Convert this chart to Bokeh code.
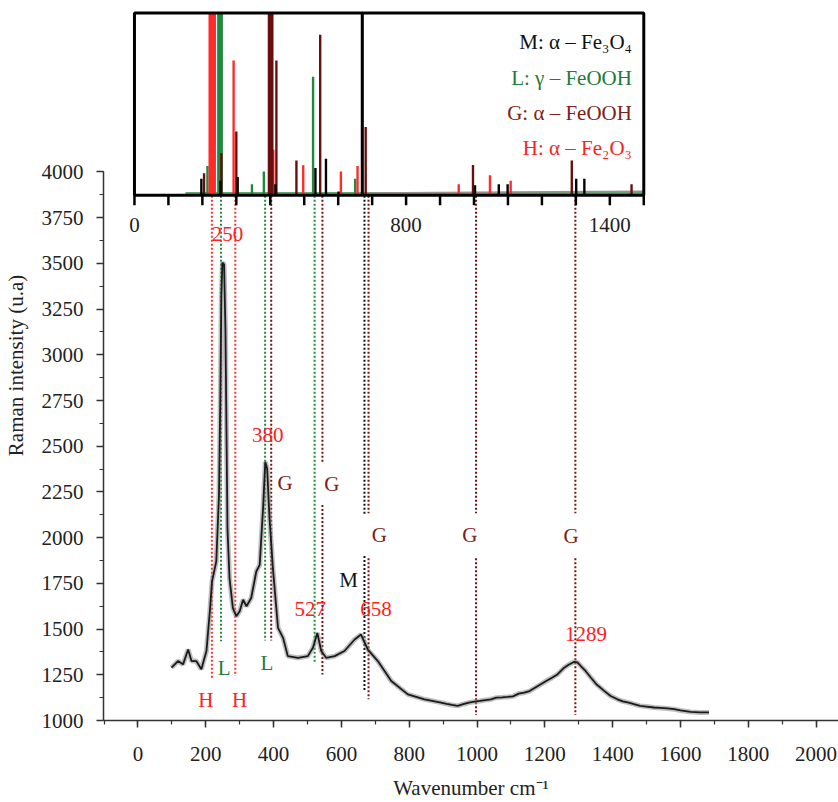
from bokeh.core.properties import value
from bokeh.embed import file_html
from bokeh.models import Range1d, SingleIntervalTicker
from bokeh.plotting import figure
from bokeh.resources import INLINE

# Raman spectrum (wavenumber, intensity)
spec_x = [99, 118, 133, 148, 158, 172, 187, 202, 212, 218.5, 231, 239, 243, 246, 249, 254,
          258, 261, 264, 270, 280, 290, 300, 310, 320, 334, 349, 359, 369, 375.5, 381, 388,
          398, 413, 428, 442, 472, 501, 516, 529, 540.5, 555, 580, 609, 639, 658, 678, 707.5,
          747, 796, 845, 894, 910, 926, 943, 959, 976, 992, 1008, 1025, 1041, 1057, 1074, 1090,
          1106, 1123, 1139, 1155, 1172, 1188, 1204, 1221, 1237, 1257, 1270, 1287, 1296, 1306,
          1320, 1336, 1352, 1375, 1394, 1414, 1430, 1447, 1463, 1481, 1500, 1522, 1541, 1561,
          1581, 1600, 1615, 1630, 1657, 1684]
spec_y = [1289, 1325, 1307, 1388, 1325, 1325, 1280, 1380, 1597, 1761, 1870, 2233, 2777, 3322,
          3504, 3494, 3140, 2596, 2051, 1779, 1615, 1570, 1597, 1661, 1625, 1670, 1815, 1851,
          2160, 2414, 2378, 2106, 1833, 1507, 1452, 1352, 1343, 1352, 1398, 1479, 1380, 1343,
          1352, 1380, 1443, 1470, 1388, 1325, 1216, 1143, 1116, 1098, 1091, 1085, 1080, 1089,
          1098, 1103, 1107, 1112, 1116, 1125, 1127, 1129, 1132, 1147, 1152, 1161, 1180, 1198,
          1216, 1234, 1252, 1289, 1305, 1321, 1318, 1298, 1271, 1234, 1198, 1162, 1134, 1116,
          1105, 1098, 1089, 1080, 1076, 1071, 1069, 1066, 1062, 1055, 1051, 1047, 1044, 1044]

# reference lines of the phases in the inset (wavenumber, relative height, phase)
ref_x = [197, 253, 304, 415, 533, 564, 601, 671, 1003, 1073, 1099, 1301, 1325,
         215, 252, 346, 381, 526, 650,
         229, 292, 409, 497, 608, 657, 955, 1047, 1108,
         205, 256, 300, 401, 418, 477, 547, 681, 997, 1288, 1464]
ref_h = [0.09, 0.08, 0.10, 0.06, 0.15, 0.20, 0.02, 1.0, 0.055, 0.06, 0.06, 0.09, 0.09,
         0.16, 1.0, 0.06, 0.13, 0.65, 0.09,
         1.0, 0.74, 0.25, 0.165, 0.13, 0.16, 0.06, 0.11, 0.08,
         0.12, 0.23, 0.35, 1.0, 0.74, 0.19, 0.88, 0.375, 0.166, 0.19, 0.06]
ref_phase = ["M"] * 13 + ["L"] * 6 + ["H"] * 9 + ["G"] * 11

# dotted guide lines from the inset down to the peaks
dot_x = [218, 245, 287, 375, 393, 521, 544, 544, 668, 668, 680, 680, 997, 997, 1290, 1290]
dot_top = [3870, 3870, 3870, 3870, 3870, 3870, 3870, 2178, 3870, 1899, 3870, 1888, 3870, 1888, 3870, 1888]
dot_bottom = [1234, 1434, 1243, 1437, 1437, 1316, 2414, 1252, 2124, 1162, 2133, 1116, 2133, 1030, 2133, 1030]
dot_phase = ["H", "L", "H", "L", "G", "L", "G", "G", "M", "M", "G", "G", "G", "G", "G", "G"]

# peak positions written on the spectrum
peak_text = ["250", "380", "527", "658", "1289"]
peak_x = [264, 383, 508, 702, 1321]
peak_y = [3658, 2563, 1610, 1610, 1474]

# phase letters next to the guide lines
tag_text = ["G", "G", "G", "G", "G", "L", "L", "H", "H", "M"]
tag_x = [434, 572, 712, 979, 1277, 254, 380, 200, 300, 621]
tag_y = [2300, 2291, 2015, 2015, 2010, 1289, 1316, 1111, 1111, 1770]

legend_text = ["M: α – Fe₃O₄", "L: γ – FeOOH", "G: α – FeOOH", "H: α – Fe₂O₃"]
legend_phase = ["M", "L", "G", "H"]
legend_y = [0.84, 0.644, 0.453, 0.26]

inset_ticks = list(range(0, 1600, 100))
inset_labels = ["0", "800", "1400"]
inset_label_x = [0, 800, 1400]

bar_colors = {"M": "#000000", "L": "#23883f", "G": "#6a0d0d", "H": "#ff2a2a"}
dot_colors = {"M": "#111111", "L": "#1f8c3a", "G": "#7a1212", "H": "#ff3030"}
tag_colors = {"M": "#111111", "L": "#237a3a", "G": "#7b2318", "H": "#ff2020"}

FONT = "Liberation Serif"

p = figure(width=838, height=802, x_range=Range1d(-101.6, 2066), y_range=Range1d(1000, 4883),
           output_backend="svg", toolbar_location=None,
           min_border_left=102, min_border_right=0, min_border_top=10, min_border_bottom=79)
p.extra_x_ranges = {"ix": Range1d(-91.2, 2073.5)}
p.extra_y_ranges = {"iy": Range1d(-2.8825, 1.0137)}

p.outline_line_color = None
p.xgrid.visible = False
p.ygrid.visible = False

p.xaxis.ticker = SingleIntervalTicker(interval=200, num_minor_ticks=2)
p.yaxis.ticker = SingleIntervalTicker(interval=250, num_minor_ticks=2)
p.yaxis.bounds = (1000, 4000)
p.xaxis.axis_label = "Wavenumber cm⁻¹"
p.yaxis.axis_label = "Raman intensity (u.a)"
for ax in (p.xaxis, p.yaxis):
    ax.axis_line_color = "#333333"
    ax.axis_line_width = 1.5
    ax.major_tick_line_color = "#333333"
    ax.minor_tick_line_color = "#333333"
    ax.major_tick_line_width = 1.5
    ax.minor_tick_line_width = 1.2
    ax.major_tick_in = 0
    ax.minor_tick_in = 0
    ax.major_tick_out = 7
    ax.minor_tick_out = 4
    ax.major_label_text_font = FONT
    ax.major_label_text_font_size = "21px"
    ax.major_label_text_color = "#222222"
    ax.axis_label_text_font = FONT
    ax.axis_label_text_font_size = "21px"
    ax.axis_label_text_font_style = "normal"
    ax.axis_label_text_color = "#222222"
p.xaxis.major_label_standoff = 19
p.xaxis.axis_label_standoff = 12
p.yaxis.major_label_standoff = 13
p.yaxis.axis_label_standoff = 11

# dotted guides
for ph in ("H", "L", "G", "M"):
    idx = [i for i, d in enumerate(dot_phase) if d == ph]
    p.segment(x0=[dot_x[i] for i in idx], y0=[dot_top[i] for i in idx],
              x1=[dot_x[i] for i in idx], y1=[dot_bottom[i] for i in idx],
              line_color=dot_colors[ph], line_width=2, line_dash="2 2")

# spectrum (grey halo + dark trace)
p.line(spec_x, spec_y, line_color="#8a8a8a", line_width=5, line_alpha=0.55)
p.line(spec_x, spec_y, line_color="#1a1a1a", line_width=1.8)

p.text(x=peak_x, y=peak_y, text=peak_text, text_color="#ff2020", text_font=value(FONT),
       text_font_size="21px", text_align="center", text_baseline="middle")
p.text(x=tag_x, y=tag_y, text=tag_text, text_color=[tag_colors[t] for t in tag_text],
       text_font=value(FONT), text_font_size="21px", text_align="center", text_baseline="middle")

# inset with the reference lines
p.quad(left=inset_ticks[0], right=inset_ticks[-1], bottom=0, top=1, fill_color="white",
       line_color=None, x_range_name="ix", y_range_name="iy")
p.line([150, 1500], [0.012, 0.012], line_color="#2e8b45", line_width=1.5,
       x_range_name="ix", y_range_name="iy")
p.line([680, 1500], [0.012, 0.022], line_color="#9a8f8a", line_width=1.5,
       x_range_name="ix", y_range_name="iy")
for ph in ("L", "H", "G", "M"):
    idx = [i for i, d in enumerate(ref_phase) if d == ph]
    xs = [ref_x[i] for i in idx]
    hs = [ref_h[i] for i in idx]
    ws = [(17 if ph != "H" else 22) if h >= 1 and ph != "M" else (9 if h >= 1 else 7) for h in hs]
    p.vbar(x=xs, top=hs, bottom=0, width=ws, fill_color=bar_colors[ph], line_color=None,
           x_range_name="ix", y_range_name="iy")
p.quad(left=inset_ticks[0], right=inset_ticks[-1], bottom=0, top=1, fill_color=None,
       line_color="black", line_width=3, x_range_name="ix", y_range_name="iy")
p.segment(x0=inset_ticks, y0=0, x1=inset_ticks, y1=-0.055, line_color="black", line_width=2.5,
          x_range_name="ix", y_range_name="iy")
p.text(x=inset_label_x, y=-0.165, text=inset_labels, text_color="#222222", text_font=value(FONT),
       text_font_size="21px", text_align="center", text_baseline="middle",
       x_range_name="ix", y_range_name="iy")
p.text(x=1465, y=legend_y, text=legend_text, text_color=[tag_colors[t] for t in legend_phase],
       text_font=value(FONT), text_font_size="21px", text_align="right", text_baseline="middle",
       x_range_name="ix", y_range_name="iy")

open("out.html", "w").write(file_html(p, INLINE))
